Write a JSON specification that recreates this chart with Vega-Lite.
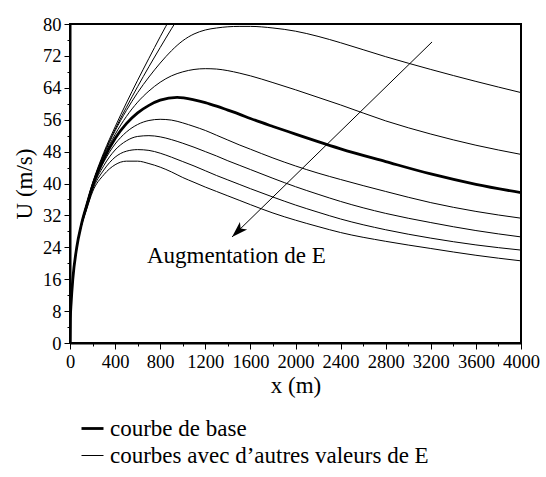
{
  "$schema": "https://vega.github.io/schema/vega-lite/v6.json",
  "width": 451,
  "height": 319,
  "autosize": "none",
  "padding": {"left": 70, "top": 24, "right": 25, "bottom": 134},
  "background": "white",
  "config": {
    "font": "Liberation Serif, Times New Roman, Times, serif",
    "view": {"stroke": "black", "strokeWidth": 2},
    "text": {"font": "Liberation Serif, Times New Roman, Times, serif"},
    "axis": {
      "grid": false,
      "labelFont": "Liberation Serif, Times New Roman, Times, serif",
      "labelFontSize": 18.5,
      "labelColor": "black",
      "titleFont": "Liberation Serif, Times New Roman, Times, serif",
      "titleFontSize": 23,
      "titleFontWeight": "normal",
      "titleColor": "black",
      "domainColor": "black",
      "domainWidth": 2,
      "tickColor": "black",
      "tickWidth": 1,
      "labelOverlap": false,
      "labelFlush": false
    },
    "legend": {
      "labelFont": "Liberation Serif, Times New Roman, Times, serif"
    }
  },
  "datasets": {
    "autres": [
      {"c":"A","x":0,"U":0},{"c":"A","x":3,"U":6},{"c":"A","x":10,"U":10},{"c":"A","x":25,"U":16},{"c":"A","x":60,"U":24},{"c":"A","x":100,"U":29.8},{"c":"A","x":150,"U":35.2},{"c":"A","x":200,"U":40.1},{"c":"A","x":300,"U":47.8},{"c":"A","x":400,"U":54.2},{"c":"A","x":500,"U":60.2},{"c":"A","x":600,"U":65.9},{"c":"A","x":700,"U":71.4},{"c":"A","x":800,"U":76.8},{"c":"A","x":900,"U":82.0},{"c":"A","x":1000,"U":87.0},
      {"c":"B","x":0,"U":0},{"c":"B","x":3,"U":6},{"c":"B","x":10,"U":10},{"c":"B","x":25,"U":16},{"c":"B","x":60,"U":24},{"c":"B","x":100,"U":29.8},{"c":"B","x":150,"U":35.1},{"c":"B","x":200,"U":39.9},{"c":"B","x":300,"U":47.4},{"c":"B","x":400,"U":53.6},{"c":"B","x":500,"U":59.1},{"c":"B","x":600,"U":64.3},{"c":"B","x":700,"U":69.3},{"c":"B","x":800,"U":74.1},{"c":"B","x":900,"U":78.8},{"c":"B","x":1000,"U":83.3},
      {"c":"C","x":0,"U":0},{"c":"C","x":3,"U":6},{"c":"C","x":10,"U":10},{"c":"C","x":25,"U":16},{"c":"C","x":60,"U":24},{"c":"C","x":100,"U":29.7},{"c":"C","x":150,"U":35.0},{"c":"C","x":200,"U":39.8},{"c":"C","x":300,"U":47.2},{"c":"C","x":400,"U":53.2},{"c":"C","x":500,"U":58.3},{"c":"C","x":600,"U":62.8},{"c":"C","x":700,"U":66.7},{"c":"C","x":800,"U":70.2},{"c":"C","x":900,"U":73.3},{"c":"C","x":1000,"U":75.8},{"c":"C","x":1100,"U":77.5},{"c":"C","x":1200,"U":78.5},{"c":"C","x":1300,"U":79.0},{"c":"C","x":1400,"U":79.3},{"c":"C","x":1500,"U":79.4},{"c":"C","x":1600,"U":79.4},{"c":"C","x":1800,"U":79.0},{"c":"C","x":2000,"U":78.2},{"c":"C","x":2200,"U":76.9},{"c":"C","x":2400,"U":75.3},{"c":"C","x":2800,"U":71.8},{"c":"C","x":3200,"U":68.6},{"c":"C","x":3600,"U":65.6},{"c":"C","x":4000,"U":62.8},
      {"c":"D","x":0,"U":0},{"c":"D","x":3,"U":6},{"c":"D","x":10,"U":10},{"c":"D","x":25,"U":16},{"c":"D","x":60,"U":24},{"c":"D","x":100,"U":29.7},{"c":"D","x":150,"U":34.8},{"c":"D","x":200,"U":39.6},{"c":"D","x":300,"U":46.8},{"c":"D","x":400,"U":52.3},{"c":"D","x":500,"U":56.8},{"c":"D","x":600,"U":60.4},{"c":"D","x":700,"U":63.2},{"c":"D","x":800,"U":65.4},{"c":"D","x":900,"U":67.0},{"c":"D","x":1000,"U":68.0},{"c":"D","x":1100,"U":68.6},{"c":"D","x":1200,"U":68.8},{"c":"D","x":1300,"U":68.7},{"c":"D","x":1400,"U":68.3},{"c":"D","x":1500,"U":67.7},{"c":"D","x":1600,"U":67.0},{"c":"D","x":1800,"U":65.3},{"c":"D","x":2000,"U":63.5},{"c":"D","x":2200,"U":61.6},{"c":"D","x":2400,"U":59.7},{"c":"D","x":2800,"U":55.7},{"c":"D","x":3200,"U":52.4},{"c":"D","x":3600,"U":49.6},{"c":"D","x":4000,"U":47.3},
      {"c":"F","x":0,"U":0},{"c":"F","x":3,"U":6},{"c":"F","x":10,"U":10},{"c":"F","x":25,"U":16},{"c":"F","x":60,"U":24},{"c":"F","x":100,"U":29.5},{"c":"F","x":150,"U":34.5},{"c":"F","x":200,"U":39.1},{"c":"F","x":300,"U":45.4},{"c":"F","x":400,"U":49.9},{"c":"F","x":500,"U":52.9},{"c":"F","x":600,"U":54.8},{"c":"F","x":700,"U":55.8},{"c":"F","x":800,"U":56.1},{"c":"F","x":900,"U":55.9},{"c":"F","x":1000,"U":55.2},{"c":"F","x":1100,"U":54.3},{"c":"F","x":1200,"U":53.3},{"c":"F","x":1300,"U":52.1},{"c":"F","x":1400,"U":50.9},{"c":"F","x":1500,"U":49.7},{"c":"F","x":1600,"U":48.6},{"c":"F","x":1800,"U":46.4},{"c":"F","x":2000,"U":44.4},{"c":"F","x":2200,"U":42.6},{"c":"F","x":2400,"U":41.0},{"c":"F","x":2800,"U":38.0},{"c":"F","x":3200,"U":35.2},{"c":"F","x":3600,"U":33.0},{"c":"F","x":4000,"U":31.3},
      {"c":"G","x":0,"U":0},{"c":"G","x":3,"U":6},{"c":"G","x":10,"U":10},{"c":"G","x":25,"U":16},{"c":"G","x":60,"U":24},{"c":"G","x":100,"U":29.4},{"c":"G","x":150,"U":34.3},{"c":"G","x":200,"U":38.8},{"c":"G","x":300,"U":44.5},{"c":"G","x":400,"U":48.4},{"c":"G","x":500,"U":50.7},{"c":"G","x":600,"U":51.8},{"c":"G","x":700,"U":52.0},{"c":"G","x":800,"U":51.7},{"c":"G","x":900,"U":51.0},{"c":"G","x":1000,"U":50.1},{"c":"G","x":1100,"U":49.1},{"c":"G","x":1200,"U":48.0},{"c":"G","x":1300,"U":46.9},{"c":"G","x":1400,"U":45.7},{"c":"G","x":1500,"U":44.6},{"c":"G","x":1600,"U":43.5},{"c":"G","x":1800,"U":41.3},{"c":"G","x":2000,"U":39.2},{"c":"G","x":2200,"U":37.3},{"c":"G","x":2400,"U":35.5},{"c":"G","x":2800,"U":32.5},{"c":"G","x":3200,"U":30.2},{"c":"G","x":3600,"U":28.2},{"c":"G","x":4000,"U":26.6},
      {"c":"H","x":0,"U":0},{"c":"H","x":3,"U":6},{"c":"H","x":10,"U":10},{"c":"H","x":25,"U":16},{"c":"H","x":60,"U":24},{"c":"H","x":100,"U":29.3},{"c":"H","x":150,"U":34.0},{"c":"H","x":200,"U":38.4},{"c":"H","x":300,"U":43.4},{"c":"H","x":400,"U":46.6},{"c":"H","x":500,"U":48.1},{"c":"H","x":600,"U":48.5},{"c":"H","x":700,"U":48.3},{"c":"H","x":800,"U":47.6},{"c":"H","x":900,"U":46.6},{"c":"H","x":1000,"U":45.5},{"c":"H","x":1100,"U":44.4},{"c":"H","x":1200,"U":43.2},{"c":"H","x":1300,"U":42.0},{"c":"H","x":1400,"U":40.9},{"c":"H","x":1500,"U":39.8},{"c":"H","x":1600,"U":38.7},{"c":"H","x":1800,"U":36.6},{"c":"H","x":2000,"U":34.6},{"c":"H","x":2200,"U":32.8},{"c":"H","x":2400,"U":31.1},{"c":"H","x":2800,"U":28.4},{"c":"H","x":3200,"U":26.3},{"c":"H","x":3600,"U":24.6},{"c":"H","x":4000,"U":23.3},
      {"c":"I","x":0,"U":0},{"c":"I","x":3,"U":6},{"c":"I","x":10,"U":10},{"c":"I","x":25,"U":16},{"c":"I","x":60,"U":24},{"c":"I","x":100,"U":29.2},{"c":"I","x":150,"U":33.7},{"c":"I","x":200,"U":37.9},{"c":"I","x":300,"U":42.2},{"c":"I","x":400,"U":44.7},{"c":"I","x":500,"U":45.6},{"c":"I","x":600,"U":45.6},{"c":"I","x":700,"U":45.0},{"c":"I","x":800,"U":44.1},{"c":"I","x":900,"U":42.9},{"c":"I","x":1000,"U":41.5},{"c":"I","x":1100,"U":40.3},{"c":"I","x":1200,"U":39.1},{"c":"I","x":1300,"U":38.0},{"c":"I","x":1400,"U":36.9},{"c":"I","x":1500,"U":35.8},{"c":"I","x":1600,"U":34.7},{"c":"I","x":1800,"U":32.6},{"c":"I","x":2000,"U":30.8},{"c":"I","x":2200,"U":29.2},{"c":"I","x":2400,"U":27.7},{"c":"I","x":2800,"U":25.5},{"c":"I","x":3200,"U":23.7},{"c":"I","x":3600,"U":22.0},{"c":"I","x":4000,"U":20.6}
    ],
    "base": [
      {"x":0,"U":0},{"x":3,"U":6},{"x":10,"U":10},{"x":25,"U":16},{"x":60,"U":24},{"x":100,"U":29.6},{"x":150,"U":34.7},{"x":200,"U":39.4},{"x":300,"U":46.2},{"x":400,"U":51.3},{"x":500,"U":55.0},{"x":600,"U":57.7},{"x":700,"U":59.6},{"x":800,"U":60.9},{"x":950,"U":61.6},{"x":1100,"U":61.0},{"x":1200,"U":60.3},{"x":1300,"U":59.4},{"x":1400,"U":58.4},{"x":1500,"U":57.4},{"x":1600,"U":56.3},{"x":1800,"U":54.3},{"x":2000,"U":52.4},{"x":2200,"U":50.5},{"x":2400,"U":48.7},{"x":2800,"U":45.5},{"x":3200,"U":42.4},{"x":3600,"U":39.8},{"x":4000,"U":37.7}
    ],
    "fleche": [
      {"x":3211,"U":75.5,"x2":1437,"U2":26.6}
    ],
    "pointe": [
      {"x":1437,"U":26.6}
    ],
    "texte": [
      {"x":683,"U":20.05,"t":"Augmentation de E"}
    ]
  },
  "encoding": {
    "x": {
      "field": "x", "type": "quantitative",
      "scale": {"domain": [0, 4000], "nice": false, "zero": true},
      "axis": {
        "title": "x (m)",
        "values": [0,200,400,600,800,1000,1200,1400,1600,1800,2000,2200,2400,2600,2800,3000,3200,3400,3600,3800,4000],
        "format": "d",
        "labelExpr": "datum.value % 400 === 0 ? datum.label : ''",
        "tickSize": {"condition": {"test": "datum.value % 400 === 0", "value": 6}, "value": 3},
        "labelPadding": 3,
        "titlePadding": 4
      }
    },
    "y": {
      "field": "U", "type": "quantitative",
      "scale": {"domain": [0, 80], "nice": false},
      "axis": {
        "title": "U (m/s)",
        "values": [0,4,8,12,16,20,24,28,32,36,40,44,48,52,56,60,64,68,72,76,80],
        "format": "d",
        "labelExpr": "datum.value % 8 === 0 ? datum.label : ''",
        "tickSize": {"condition": {"test": "datum.value % 8 === 0", "value": 6}, "value": 3},
        "labelPadding": 3,
        "titlePadding": 6
      }
    }
  },
  "layer": [
    {
      "data": {"name": "autres"},
      "mark": {"type": "line", "interpolate": "monotone", "clip": true, "color": "black"},
      "encoding": {
        "detail": {"field": "c", "type": "nominal"},
        "strokeWidth": {
          "datum": "courbes avec d’autres valeurs de E",
          "type": "ordinal",
          "scale": {"domain": ["courbe de base", "courbes avec d’autres valeurs de E"], "range": [2.8, 1]},
          "legend": {
            "orient": "none",
            "legendX": 10,
            "legendY": 392,
            "title": null,
            "padding": 0,
            "symbolType": "stroke",
            "symbolSize": 484,
            "symbolStrokeColor": "black",
            "labelFont": "Liberation Serif, Times New Roman, Times, serif",
            "labelFontSize": 23,
            "labelColor": "black",
            "labelLimit": 500,
            "labelOffset": 5,
            "rowPadding": 3,
            "labelExpr": "datum.value === 'courbe de base' ? datum.label : '\u00a0' + datum.label"
          }
        }
      }
    },
    {
      "data": {"name": "base"},
      "mark": {"type": "line", "interpolate": "monotone", "clip": true, "color": "black"},
      "encoding": {
        "strokeWidth": {"datum": "courbe de base", "type": "ordinal"}
      }
    },
    {
      "data": {"name": "fleche"},
      "mark": {"type": "rule", "color": "black", "strokeWidth": 1},
      "encoding": {
        "x2": {"field": "x2"},
        "y2": {"field": "U2"}
      }
    },
    {
      "data": {"name": "pointe"},
      "mark": {"type": "point", "shape": "M0,0L0.65,2L0,1.5L-0.65,2Z", "filled": true, "color": "black", "opacity": 1, "size": 256, "angle": 226},
      "encoding": {}
    },
    {
      "data": {"name": "texte"},
      "mark": {"type": "text", "align": "left", "baseline": "alphabetic", "font": "Liberation Serif, Times New Roman, Times, serif", "fontSize": 23, "color": "black"},
      "encoding": {
        "text": {"field": "t"}
      }
    }
  ]
}
